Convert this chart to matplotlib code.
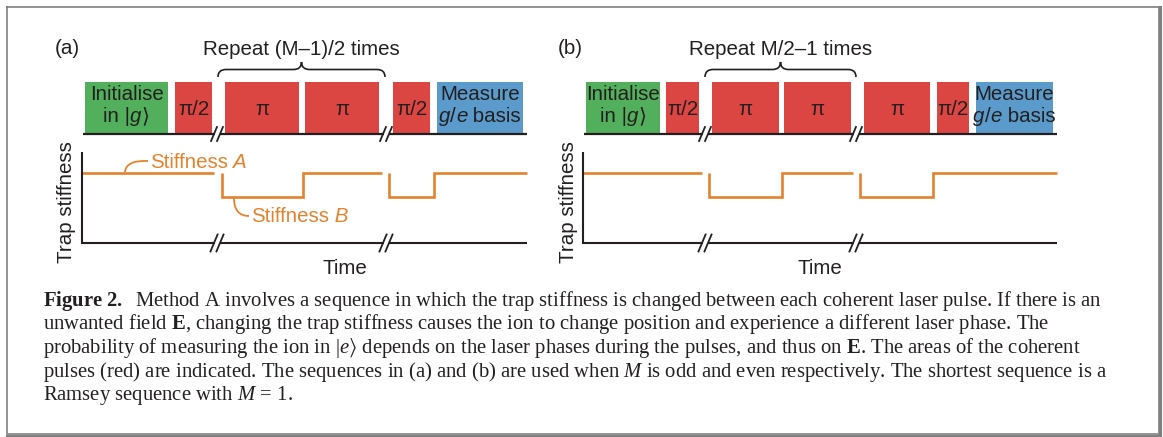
import numpy as np
import matplotlib
matplotlib.use("Agg")
import matplotlib.pyplot as plt
from matplotlib.path import Path
from matplotlib.patches import PathPatch

plt.rcParams['mathtext.fontset'] = 'custom'
plt.rcParams['mathtext.rm'] = 'Liberation Serif'
plt.rcParams['mathtext.it'] = 'Liberation Serif:italic'
plt.rcParams['mathtext.bf'] = 'Liberation Serif:bold'
plt.rcParams['mathtext.fallback'] = 'stix'

# ---------------- data ----------------
panel_labels = ["(a)", "(b)"]
repeat_labels = ["Repeat (M\u20131)/2 times", "Repeat M/2\u20131 times"]

# pulse sequence (time axis in figure pixels)
pulse_kind_a = ["init", "half", "pi", "pi", "half", "measure"]
pulse_start_a = [85, 175, 225, 305, 393, 437]
pulse_end_a = [168, 212, 299, 379, 430, 523]

pulse_kind_b = ["init", "half", "pi", "pi", "pi", "half", "measure"]
pulse_start_b = [586, 666, 712, 784, 864, 937, 976]
pulse_end_b = [660, 699, 779, 851, 930, 969, 1053]

# trap stiffness (1 = stiffness A, 0 = stiffness B), NaN = break
stiff_t_a = [82, 214, np.nan, 222, 222, 303, 303, 382, np.nan, 389, 389, 434, 434, 527]
stiff_l_a = [1, 1, np.nan, 1, 0, 0, 1, 1, np.nan, 1, 0, 0, 1, 1]
stiff_t_b = [583, 702, np.nan, 709, 709, 782, 782, 853, np.nan, 860, 860, 933, 933, 1057]
stiff_l_b = [1, 1, np.nan, 1, 0, 0, 1, 1, np.nan, 1, 0, 0, 1, 1]

# brace spans (repeated block) and axis breaks
brace_a = (218, 385)
brace_b = (705, 856)
breaks_a = [217, 386]
breaks_b = [705, 856]

caption_lines = [
    r"$\mathbf{Figure\ 2.}$  Method A involves a sequence in which the trap stiffness is changed between each coherent laser pulse. If there is an",
    r"unwanted field $\mathbf{E}$, changing the trap stiffness causes the ion to change position and experience a different laser phase. The",
    r"probability of measuring the ion in $|e\rangle$ depends on the laser phases during the pulses, and thus on $\mathbf{E}$. The areas of the coherent",
    r"pulses (red) are indicated. The sequences in (a) and (b) are used when $M$ is odd and even respectively. The shortest sequence is a",
    r"Ramsey sequence with $M\,=\,1$.",
]

# ---------------- style ----------------
W, H = 1163, 437
GREEN = "#52AF5B"
RED = "#DB4542"
BLUE = "#5B9BCB"
ORANGE = "#E5822E"
INK = "#231F20"
SANS = ["Liberation Sans", "DejaVu Sans"]
FS = 14.8
BOX_TOP, BOX_BOT = 82, 133
HIGH_Y, LOW_Y = 173, 197
CAPTION_X, CAPTION_RIGHT = 43, 1100

fig = plt.figure(figsize=(W / 100, H / 100), dpi=100)
ax = fig.add_axes([0, 0, 1, 1])
ax.set_xlim(0, W)
ax.set_ylim(H, 0)
ax.axis("off")

rich_groups = []


def rich(x, y, parts, center=True, color=INK, size=FS):
    """parts: list of (text, fontstyle)"""
    prev = None
    arts = []
    for s, st in parts:
        if prev is None:
            t = ax.text(x, y, s, ha="left", va="baseline", fontsize=size,
                        family=SANS, style=st, color=color, zorder=3)
        else:
            t = ax.annotate(s, xy=(1, 0), xycoords=prev, ha="left", va="bottom",
                            fontsize=size, family=SANS, style=st, color=color, zorder=3)
        arts.append(t)
        prev = t
    if center:
        rich_groups.append((x, arts))
    return arts


def breakmark(cx, cy, hh):
    hw = hh * 0.42
    ax.plot([cx - 2.5, cx + 2.5], [cy, cy], color="white", lw=3, solid_capstyle="butt", zorder=4)
    for off in (-3.0, 3.0):
        ax.plot([cx + off - hw, cx + off + hw], [cy + hh, cy - hh], color=INK, lw=1.3, zorder=5)


def brace(x0, x1, yb=77, ym=69.5, yt=62, r=8):
    xc = (x0 + x1) / 2
    verts = [(x0, yb), (x0, ym), (x0 + r, ym), (xc - r, ym), (xc, ym), (xc, yt),
             (xc, ym), (xc + r, ym), (x1 - r, ym), (x1, ym), (x1, yb)]
    codes = [Path.MOVETO, Path.CURVE3, Path.CURVE3, Path.LINETO, Path.CURVE3, Path.CURVE3,
             Path.CURVE3, Path.CURVE3, Path.LINETO, Path.CURVE3, Path.CURVE3]
    ax.add_patch(PathPatch(Path(verts, codes), fill=False, lw=1.2, edgecolor=INK))


def panel(kinds, starts, ends, st_t, st_l, brace_span, breaks, x_axis0, x_axis1,
          label, label_x, repeat_label, trap_x, time_x):
    colors = {"init": GREEN, "half": RED, "pi": RED, "measure": BLUE}
    s = np.array(starts, float)
    e = np.array(ends, float)
    ax.bar(s, BOX_TOP - BOX_BOT, width=e - s, bottom=BOX_BOT, align="edge",
           color=[colors[k] for k in kinds], edgecolor="none", zorder=2)
    for k, a, b in zip(kinds, s, e):
        c = (a + b) / 2
        if k == "init":
            rich(c, 100, [("Initialise", "normal")])
            rich(c, 122, [("in |", "normal"), ("g", "italic"), ("\u27e9", "normal")])
        elif k == "measure":
            rich(c, 100, [("Measure", "normal")])
            rich(c, 122, [("g", "italic"), ("/", "normal"), ("e", "italic"), (" basis", "normal")])
        else:
            ax.text(c, 115, "\u03c0/2" if k == "half" else "\u03c0", ha="center",
                    va="baseline", fontsize=FS, family=SANS, color=INK, zorder=3)
    # baseline under the pulses
    ax.plot([x_axis0, x_axis1], [134, 134], color=INK, lw=1.6, solid_capstyle="butt", zorder=3)
    # stiffness trace
    lvl = np.array(st_l, float)
    ax.plot(st_t, LOW_Y - (LOW_Y - HIGH_Y) * lvl, color=ORANGE, lw=1.9,
            solid_joinstyle="miter", solid_capstyle="butt", zorder=3)
    # axes
    ax.plot([x_axis0 - 1, x_axis0 - 1, x_axis1], [152, 243, 243], color=INK, lw=1.5,
            solid_joinstyle="miter", solid_capstyle="butt", zorder=3)
    for bx in breaks:
        breakmark(bx, 134, 7)
        breakmark(bx, 243, 8.5)
    brace(*brace_span)
    ax.text((brace_span[0] + brace_span[1]) / 2, 55, repeat_label, ha="center", va="baseline",
            fontsize=FS, family=SANS, color=INK)
    ax.text(label_x, 54, label, ha="center", va="baseline", fontsize=FS, family=SANS, color=INK)
    ax.text(trap_x, 202, "Trap stiffness", rotation=90, ha="center", va="center",
            fontsize=FS, family=SANS, color=INK)
    ax.text(time_x, 274, "Time", ha="center", va="baseline", fontsize=FS, family=SANS, color=INK)


panel(pulse_kind_a, pulse_start_a, pulse_end_a, stiff_t_a, stiff_l_a, brace_a, breaks_a,
      83, 527, panel_labels[0], 67, repeat_labels[0], 66, 345)
panel(pulse_kind_b, pulse_start_b, pulse_end_b, stiff_t_b, stiff_l_b, brace_b, breaks_b,
      584, 1057, panel_labels[1], 570, repeat_labels[1], 568, 820)

# stiffness annotations (panel a)
ax.add_patch(PathPatch(Path([(125, 172), (126, 160), (148, 161)],
                            [Path.MOVETO, Path.CURVE3, Path.CURVE3]),
                       fill=False, lw=1.3, edgecolor=ORANGE))
rich(150, 168, [("Stiffness", "normal"), (" A", "italic")], center=False, color=ORANGE)
ax.add_patch(PathPatch(Path([(234, 198), (234, 216), (249, 216)],
                            [Path.MOVETO, Path.CURVE3, Path.CURVE3]),
                       fill=False, lw=1.3, edgecolor=ORANGE))
rich(251, 222, [("Stiffness", "normal"), (" B", "italic")], center=False, color=ORANGE)

# caption
baselines = [306, 329.5, 353, 376.5, 400]
cap_texts = []
for line, yb in zip(caption_lines, baselines):
    cap_texts.append(ax.text(CAPTION_X, yb, line, ha="left", va="baseline", fontsize=12.6,
                             family="Liberation Serif", color=INK))

# frame
ax.plot([7, 1159, 1159, 7, 7], [7, 7, 434, 434, 7], color="#808080", lw=1.2, zorder=1)
ax.plot([1160, 1160, 7], [7, 435.5, 435.5], color="#808080", lw=2.2, zorder=1)

# layout pass: centre rich-text groups and fit caption width to the reference
fig.canvas.draw()
r = fig.canvas.get_renderer()
for cx, arts in rich_groups:
    bbs = [a.get_window_extent(r) for a in arts]
    x0 = min(b.x0 for b in bbs)
    x1 = max(b.x1 for b in bbs)
    shift = cx - (x0 + x1) / 2
    px, py = arts[0].get_position()
    arts[0].set_position((px + shift, py))

w0 = cap_texts[0].get_window_extent(r).width
new_fs = 12.6 * (CAPTION_RIGHT - CAPTION_X) / w0
for t in cap_texts:
    t.set_fontsize(new_fs)

fig.savefig("out.png", dpi=100)
